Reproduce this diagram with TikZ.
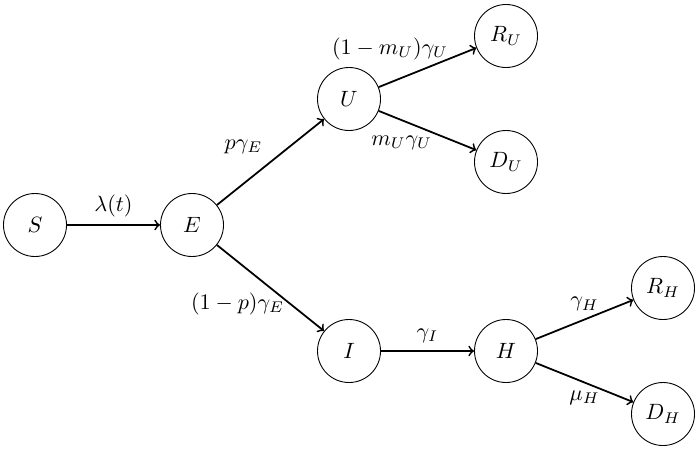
\documentclass[tikz,border=0pt]{standalone}
\begin{document}
\begin{tikzpicture}[x=0.015873cm, y=-0.015873cm,
  state/.style={draw, circle, minimum size=1cm, inner sep=0pt, line width=0.4pt},
  flow/.style={->, thick}]
\useasboundingbox (0,0) rectangle (700,449);
\node[state] (S)  at (35,225)  {$S$};
\node[state] (E)  at (192,225) {$E$};
\node[state] (U)  at (349,99)  {$U$};
\node[state] (RU) at (506,36)  {$R_U$};
\node[state] (DU) at (506,162) {$D_U$};
\node[state] (I)  at (349,351) {$I$};
\node[state] (H)  at (506,351) {$H$};
\node[state] (RH) at (663,288) {$R_H$};
\node[state] (DH) at (663,414) {$D_H$};
\draw[flow] (S) -- node[above] (lS) {$\lambda(t)$} (E);
\draw[flow] (E) -- node[above left] (lEU) {$p\gamma_E$} (U);
\draw[flow] (E) -- node[pos=0.5, xshift=-14.9pt, yshift=-7.2pt] (lEI) {$(1-p)\gamma_E$} (I);
\draw[flow] (U) -- node[pos=0.5, xshift=-16.9pt, yshift=8.3pt] (lUR) {$(1-m_U)\gamma_U$} (RU);
\draw[flow] (U) -- node[pos=0.5, xshift=-11.7pt, yshift=-5.4pt] (lUD) {$m_U\gamma_U$} (DU);
\draw[flow] (I) -- node[above] (lIH) {$\gamma_I$} (H);
\draw[flow] (H) -- node[above] (lHR) {$\gamma_H$} (RH);
\draw[flow] (H) -- node[below] (lHD) {$\mu_H$} (DH);
\end{tikzpicture}
\end{document}
